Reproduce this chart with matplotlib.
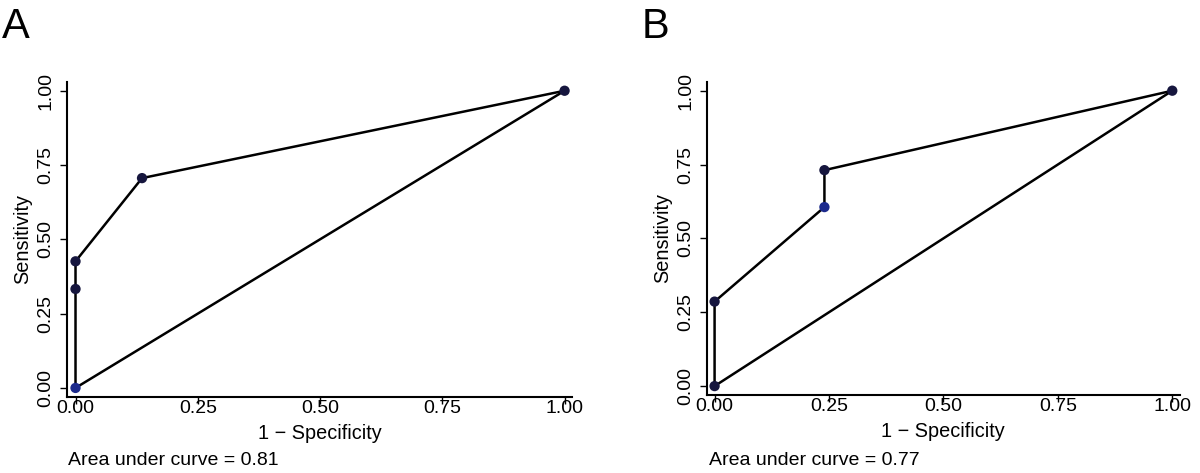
import matplotlib
matplotlib.use("Agg")
import matplotlib.pyplot as plt

plt.rcParams["font.family"] = ["Liberation Sans", "DejaVu Sans"]

# ROC points, panel A
a_fpr = [0.0, 0.0, 0.0, 0.136, 1.0]
a_sens = [0.0, 0.333, 0.426, 0.706, 1.0]
a_colors = ["#1c2a8c", "#16163e", "#16163e", "#16163e", "#16163e"]
a_auc = 0.81

# ROC points, panel B
b_fpr = [0.0, 0.0, 0.24, 0.24, 1.0]
b_sens = [0.0, 0.286, 0.606, 0.731, 1.0]
b_colors = ["#16163e", "#16163e", "#1c2a8c", "#16163e", "#16163e"]
b_auc = 0.77

ticks = [0.0, 0.25, 0.5, 0.75, 1.0]
tick_labels = ["0.00", "0.25", "0.50", "0.75", "1.00"]

fig = plt.figure(figsize=(12, 4.73), dpi=100)

panels = [
    ("A", [0.056, 0.161, 0.421, 0.666], 0.057, a_fpr, a_sens, a_colors, a_auc),
    ("B", [0.589, 0.165, 0.394, 0.662], 0.591, b_fpr, b_sens, b_colors, b_auc),
]

for letter, rect, auc_x, fpr, sens, colors, auc in panels:
    ax = fig.add_axes(rect)
    # reference diagonal
    ax.plot([0, 1], [0, 1], color="black", lw=1.8, zorder=2)
    # ROC curve
    ax.plot(fpr, sens, color="black", lw=1.8, zorder=3)
    ax.scatter(fpr, sens, s=55, c=colors, zorder=4, linewidths=0)

    ax.set_xlim(-0.017, 1.016)
    ax.set_ylim(-0.03, 1.03)
    for side in ["top", "right"]:
        ax.spines[side].set_visible(False)
    for side in ["left", "bottom"]:
        ax.spines[side].set_linewidth(1.5)

    ax.set_xticks(ticks)
    ax.set_xticklabels(tick_labels)
    ax.set_yticks(ticks)
    ax.set_yticklabels(tick_labels, rotation=90, va="center")
    ax.tick_params(axis="x", direction="out", length=5, width=1, pad=-3, labelsize=14)
    ax.tick_params(axis="y", direction="out", length=5, width=1, pad=4, labelsize=14)

    ax.set_xlabel("1 \u2212 Specificity", fontsize=14.3, labelpad=5)
    ax.set_ylabel("Sensitivity", fontsize=14.3, labelpad=4)

    fig.text(auc_x, 0.027, f"Area under curve = {auc:.2f}",
             fontsize=14, ha="left", va="center")
    fig.text(rect[0] - 0.054, 0.985, letter, fontsize=30, ha="left", va="top")

fig.savefig("out.png", dpi=100, facecolor="white")
